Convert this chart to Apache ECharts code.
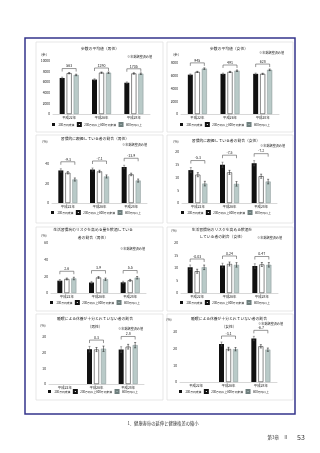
<!DOCTYPE html>
<html>
<head>
<meta charset="utf-8">
<script src="https://cdn.jsdelivr.net/npm/echarts@6/dist/echarts.min.js"></script>
<style>
  html, body { margin: 0; padding: 0; background: #fff; }
  #main { width: 320px; height: 453px; }
</style>
</head>
<body>
<div id="main"></div>
<script>
// 年次と所得区分
const years = ['平成22年', '平成26年', '平成28年'];
const groups = ['200万円未満', '200万円以上600万円未満', '600万円以上'];

// 歩数の平均値（男性）
const stepsMaleLow = [6800, 6500, 5900];
const stepsMaleMid = [7700, 7800, 7650];
const stepsMaleHigh = [7363, 7790, 7605];
const stepsMaleErr = [[160, 150, 150], [120, 120, 130], [140, 130, 140]];
const stepsMaleDiff = ['563', '1290', '1705'];

// 歩数の平均値（女性）
const stepsFemaleLow = [6170, 6300, 6300];
const stepsFemaleMid = [6600, 6600, 6300];
const stepsFemaleHigh = [7115, 6791, 6928];
const stepsFemaleErr = [[110, 110, 110], [90, 90, 90], [120, 110, 120]];
const stepsFemaleDiff = ['945', '491', '628'];

// 習慣的に喫煙している者の割合（男性）
const smokeMaleLow = [33.4, 34.3, 36.9];
const smokeMaleMid = [31.0, 32.4, 29.3];
const smokeMaleHigh = [24.1, 27.2, 23.0];
const smokeMaleErr = [[1.7, 1.6, 1.8], [1.2, 1.2, 1.3], [1.6, 1.6, 1.6]];
const smokeMaleDiff = ['-9.3', '-7.1', '-13.9'];

// 習慣的に喫煙している者の割合（女性）
const smokeFemaleLow = [12.9, 15.0, 15.6];
const smokeFemaleMid = [11.1, 12.0, 10.5];
const smokeFemaleHigh = [7.6, 7.5, 8.4];
const smokeFemaleErr = [[1.0, 1.0, 1.0], [0.8, 0.8, 0.8], [0.9, 0.9, 0.9]];
const smokeFemaleDiff = ['-5.3', '-7.5', '-7.2'];

// 生活習慣病のリスクを高める量を飲酒している者の割合（男性）
const drinkMaleLow = [14.8, 12.6, 12.8];
const drinkMaleMid = [16.8, 18.6, 15.2];
const drinkMaleHigh = [17.4, 16.5, 18.3];
const drinkMaleErr = [[1.4, 1.3, 1.3], [1.1, 1.1, 1.1], [1.5, 1.4, 1.5]];
const drinkMaleDiff = ['2.6', '3.9', '5.5'];

// 生活習慣病のリスクを高める飲酒をしている者の割合（女性）
const drinkFemaleLow = [10.3, 11.0, 10.8];
const drinkFemaleMid = [8.7, 11.6, 11.4];
const drinkFemaleHigh = [10.27, 11.24, 11.27];
const drinkFemaleErr = [[0.9, 0.9, 0.9], [0.8, 0.8, 0.8], [0.9, 0.9, 0.9]];
const drinkFemaleDiff = ['-0.03', '0.24', '0.47'];

// 睡眠による休養が十分とれていない者の割合（男性）
const sleepMaleLow = [null, 22.2, 22.0];
const sleepMaleMid = [null, 22.0, 23.8];
const sleepMaleHigh = [null, 22.5, 24.8];
const sleepMaleErr = [[null, 1.8, 1.8], [null, 1.3, 1.5], [null, 1.7, 1.7]];
const sleepMaleDiff = [null, '0.3', '2.8'];

// 睡眠による休養が十分とれていない者の割合（女性）
const sleepFemaleLow = [null, 22.8, 26.1];
const sleepFemaleMid = [null, 19.8, 21.4];
const sleepFemaleHigh = [null, 19.7, 19.4];
const sleepFemaleErr = [[null, 1.2, 1.3], [null, 1.0, 1.0], [null, 1.0, 1.0]];
const sleepFemaleDiff = [null, '-3.1', '-6.7'];

const note = '※年齢調整済み値';
const FONT = '"Noto Sans CJK JP", "Noto Sans", sans-serif';
const barStep = 7; // barWidth 5 + barGap 40%

const barStyles = [
    { color: '#111111' },
    { color: '#ffffff', borderColor: '#111111', borderWidth: 0.5 },
    { color: '#b9cac8', borderColor: '#6f7f7e', borderWidth: 0.4 }
];

// パネルごとの配置
const charts = [
    { title: ['歩数の平均値（男性）'], titleX: 100, titleY: [49], unit: '(歩)', unitPos: [44, 55], notePos: [152, 57],
      data: [stepsMaleLow, stepsMaleMid, stepsMaleHigh], err: stepsMaleErr, diff: stepsMaleDiff, yMax: 10000, yInt: 2000,
      panel: [36, 42, 127, 90], grid: [53, 61, 97, 53], legendY: 122, brGap: 4 },
    { title: ['歩数の平均値（女性）'], titleX: 229, titleY: [49], unit: '(歩)', unitPos: [176, 55], notePos: [284, 53],
      data: [stepsFemaleLow, stepsFemaleMid, stepsFemaleHigh], err: stepsFemaleErr, diff: stepsFemaleDiff, yMax: 8000, yInt: 2000,
      panel: [167, 42, 126, 90], grid: [181, 63, 98, 51], legendY: 122, brGap: 5 },
    { title: ['習慣的に喫煙している者の割合（男性）'], titleX: 95, titleY: [139], unit: '(%)', unitPos: [45, 142], notePos: [147, 145],
      data: [smokeMaleLow, smokeMaleMid, smokeMaleHigh], err: smokeMaleErr, diff: smokeMaleDiff, yMax: 40, yInt: 20,
      panel: [36, 135, 127, 88], grid: [52, 164, 95, 39], legendY: 210, brGap: 7 },
    { title: ['習慣的に喫煙している者の割合（女性）'], titleX: 226, titleY: [141], unit: '(%)', unitPos: [176, 142], notePos: [285, 146],
      data: [smokeFemaleLow, smokeFemaleMid, smokeFemaleHigh], err: smokeFemaleErr, diff: smokeFemaleDiff, yMax: 20, yInt: 5,
      panel: [167, 135, 126, 88], grid: [182, 152, 95, 51], legendY: 210, brGap: 7 },
    { title: ['生活習慣病のリスクを高める量を飲酒している', '者の割合（男性）'], titleX: 93, titleY: [230, 238], unit: '(%)', unitPos: [44, 236], notePos: [145, 249],
      data: [drinkMaleLow, drinkMaleMid, drinkMaleHigh], err: drinkMaleErr, diff: drinkMaleDiff, yMax: 60, yInt: 20,
      panel: [36, 227, 127, 84], grid: [51, 243, 95, 50], legendY: 300, brGap: 6 },
    { title: ['生活習慣病のリスクを高める飲酒を', 'している者の割合（女性）'], titleX: 222, titleY: [230, 237], unit: '(%)', unitPos: [174, 231], notePos: [282, 238],
      data: [drinkFemaleLow, drinkFemaleMid, drinkFemaleHigh], err: drinkFemaleErr, diff: drinkFemaleDiff, yMax: 20, yInt: 5,
      panel: [167, 227, 126, 84], grid: [181, 243, 97, 50], legendY: 300, brGap: 6 },
    { title: ['睡眠による休養が十分とれていない者の割合', '（男性）'], titleX: 95, titleY: [319, 327], unit: '(%)', unitPos: [43, 326], notePos: [143, 329],
      data: [sleepMaleLow, sleepMaleMid, sleepMaleHigh], err: sleepMaleErr, diff: sleepMaleDiff, yMax: 30, yInt: 10,
      panel: [36, 314, 127, 86], grid: [49, 337, 95, 47], legendY: 389, brGap: 6 },
    { title: ['睡眠による休養が十分とれていない者の割合', '（女性）'], titleX: 229, titleY: [319, 327], unit: '(%)', unitPos: [169, 320], notePos: [283, 324],
      data: [sleepFemaleLow, sleepFemaleMid, sleepFemaleHigh], err: sleepFemaleErr, diff: sleepFemaleDiff, yMax: 30, yInt: 10,
      panel: [167, 314, 126, 86], grid: [180, 332, 97, 50], legendY: 389, brGap: 6 }
];

const option = {
    animation: false,
    textStyle: { fontFamily: FONT },
    grid: [], xAxis: [], yAxis: [], series: [], legend: [], graphic: []
};

// 外枠
option.graphic.push({
    type: 'rect', shape: { x: 25, y: 38, width: 270, height: 376 },
    style: { fill: 'none', stroke: '#35358c', lineWidth: 1.5 }, silent: true
});

charts.forEach((c, i) => {
    option.graphic.push({
        type: 'rect', shape: { x: c.panel[0], y: c.panel[1], width: c.panel[2], height: c.panel[3] },
        style: { fill: 'none', stroke: '#d6d6d6', lineWidth: 0.6 }, silent: true
    });
    c.title.forEach((t, n) => {
        option.graphic.push({
            type: 'text', x: c.titleX, y: c.titleY[n], silent: true,
            style: { text: t, fontSize: 3.8, fontFamily: FONT, fill: '#222', align: 'center', verticalAlign: 'middle' }
        });
    });
    option.graphic.push({
        type: 'text', x: c.unitPos[0], y: c.unitPos[1], silent: true,
        style: { text: c.unit, fontSize: 3.3, fontFamily: FONT, fill: '#222', align: 'center', verticalAlign: 'middle' }
    });
    option.graphic.push({
        type: 'text', x: c.notePos[0], y: c.notePos[1], silent: true,
        style: { text: note, fontSize: 3.1, fontFamily: FONT, fill: '#333', align: 'right', verticalAlign: 'middle' }
    });

    option.grid.push({ left: c.grid[0], top: c.grid[1], width: c.grid[2], height: c.grid[3] });
    option.xAxis.push({
        type: 'category', gridIndex: i, data: years,
        axisLine: { lineStyle: { color: '#bdbdbd', width: 0.6 } },
        axisTick: { show: false },
        axisLabel: { fontSize: 3.4, color: '#222', margin: 2 }
    });
    option.yAxis.push({
        type: 'value', gridIndex: i, min: 0, max: c.yMax, interval: c.yInt,
        splitLine: { show: false }, axisLine: { show: false }, axisTick: { show: false },
        axisLabel: { fontSize: 3.3, color: '#222', margin: 3, formatter: v => String(v) }
    });

    groups.forEach((g, k) => {
        option.series.push({
            type: 'bar', name: g, xAxisIndex: i, yAxisIndex: i, data: c.data[k],
            barWidth: 5, barGap: '40%', itemStyle: barStyles[k], silent: true
        });
    });

    // 誤差範囲
    const errData = [];
    groups.forEach((g, k) => {
        c.data[k].forEach((v, j) => {
            if (v != null) errData.push([j, v, c.err[k][j], k]);
        });
    });
    option.series.push({
        type: 'custom', xAxisIndex: i, yAxisIndex: i, data: errData, silent: true, z: 5,
        renderItem: (params, api) => {
            const j = api.value(0), v = api.value(1), e = api.value(2), k = api.value(3);
            const top = api.coord([j, v + e]);
            const bot = api.coord([j, v - e]);
            const x = top[0] + (k - 1) * barStep;
            const col = k === 0 ? '#555' : '#111';
            return {
                type: 'group', children: [
                    { type: 'line', shape: { x1: x, y1: top[1], x2: x, y2: bot[1] }, style: { stroke: col, lineWidth: 0.5 } },
                    { type: 'line', shape: { x1: x - 1, y1: top[1], x2: x + 1, y2: top[1] }, style: { stroke: col, lineWidth: 0.5 } },
                    { type: 'line', shape: { x1: x - 1, y1: bot[1], x2: x + 1, y2: bot[1] }, style: { stroke: col, lineWidth: 0.5 } }
                ]
            };
        }
    });

    // 格差の括弧
    const brData = [];
    years.forEach((y, j) => {
        if (c.diff[j] == null) return;
        let top = 0;
        groups.forEach((g, k) => { top = Math.max(top, c.data[k][j] + c.err[k][j]); });
        brData.push([j, top]);
    });
    option.series.push({
        type: 'custom', xAxisIndex: i, yAxisIndex: i, data: brData, silent: true, z: 6,
        renderItem: (params, api) => {
            const j = api.value(0);
            const p = api.coord([j, api.value(1)]);
            const y = p[1] - c.brGap;
            const lx = p[0] - barStep, rx = p[0] + barStep;
            return {
                type: 'group', children: [
                    { type: 'polyline', shape: { points: [[lx, y + 3], [lx, y], [rx, y], [rx, y + 3]] },
                      style: { stroke: '#333', lineWidth: 0.5, fill: null } },
                    { type: 'text', x: p[0], y: y - 0.8,
                      style: { text: c.diff[j], fontSize: 3.6, fontFamily: FONT, fill: '#222', align: 'center', verticalAlign: 'bottom' } }
                ]
            };
        }
    });

    option.legend.push({
        data: groups, left: c.grid[0] - 1, top: c.legendY, orient: 'horizontal',
        icon: 'rect', itemWidth: 3, itemHeight: 3, itemGap: 2.5, padding: 0, selectedMode: false,
        textStyle: { fontSize: 2.8, color: '#222', fontFamily: FONT, padding: [0, 0, 0, -1.5] }
    });
});

// 見出し・ページ番号
option.graphic.push(
    { type: 'text', x: 163, y: 423, silent: true,
      style: { text: '1．健康寿命の延伸と健康格差の縮小', fontSize: 4.3, fontFamily: FONT, fill: '#333', align: 'center', verticalAlign: 'middle' } },
    { type: 'text', x: 288, y: 437, silent: true,
      style: { text: '第3章　Ⅱ', fontSize: 4.5, fontFamily: FONT, fill: '#333', align: 'right', verticalAlign: 'middle' } },
    { type: 'text', x: 297, y: 437, silent: true,
      style: { text: '53', fontSize: 7, fontFamily: FONT, fill: '#333', align: 'left', verticalAlign: 'middle' } }
);

const chart = echarts.init(document.getElementById('main'), null, { renderer: 'canvas' });
chart.setOption(option);
</script>
</body>
</html>
